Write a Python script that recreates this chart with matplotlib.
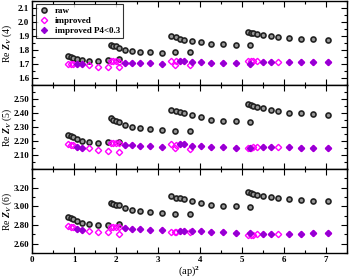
import matplotlib
matplotlib.use("Agg")
import matplotlib.pyplot as plt
from matplotlib.ticker import MultipleLocator, FixedLocator, FixedFormatter
import numpy as np

# (ap)^2 values, four ensembles concatenated
x_vals = [0.86, 0.93, 0.98, 1.08, 1.19, 1.36, 1.56, 1.80, 2.07,
          1.87, 1.93, 2.00, 2.07, 2.21, 2.38, 2.58, 2.82, 3.10, 3.41, 3.75,
          3.32, 3.42, 3.52, 3.63, 3.82, 4.03, 4.27, 4.54, 4.85, 5.19,
          5.15, 5.21, 5.27, 5.36, 5.50, 5.68, 5.87, 6.11, 6.40, 6.70, 7.05]

# 1 where P4 < 0.3
p4_cut = [0, 0, 0, 1, 1, 0, 0, 0, 0,
          0, 0, 0, 0, 1, 1, 1, 1, 1, 0, 0,
          0, 0, 1, 1, 1, 1, 1, 1, 1, 1,
          0, 0, 0, 0, 1, 1, 0, 1, 1, 1, 1]

raw_4 = [1.757, 1.750, 1.740, 1.733, 1.725, 1.721, 1.721, 1.725, 1.733,
         1.837, 1.830, 1.825, 1.812, 1.798, 1.793, 1.788, 1.788, 1.781, 1.783, 1.783,
         1.897, 1.890, 1.880, 1.870, 1.863, 1.854, 1.844, 1.839, 1.837, 1.834,
         1.928, 1.924, 1.919, 1.914, 1.907, 1.899, 1.892, 1.885, 1.880, 1.875, 1.873]
imp_4 = [1.702, 1.701, 1.700, 1.699, 1.696, 1.692, 1.680, 1.677, 1.675,
         1.720, 1.719, 1.718, 1.716, 1.709, 1.706, 1.706, 1.704, 1.697, 1.692, 1.692,
         1.723, 1.723, 1.723, 1.722, 1.716, 1.714, 1.709, 1.706, 1.704, 1.698,
         1.721, 1.721, 1.721, 1.720, 1.716, 1.714, 1.716, 1.712, 1.711, 1.710, 1.710]

raw_5 = [2.246, 2.237, 2.227, 2.216, 2.199, 2.195, 2.188, 2.190, 2.192,
         2.362, 2.350, 2.343, 2.334, 2.315, 2.303, 2.292, 2.283, 2.278, 2.274, 2.274,
         2.424, 2.412, 2.405, 2.396, 2.383, 2.369, 2.352, 2.345, 2.341, 2.338,
         2.461, 2.458, 2.452, 2.445, 2.435, 2.424, 2.412, 2.403, 2.396, 2.389, 2.387]
imp_5 = [2.176, 2.174, 2.168, 2.160, 2.150, 2.147, 2.135, 2.131, 2.123,
         2.186, 2.185, 2.185, 2.183, 2.172, 2.168, 2.165, 2.162, 2.157, 2.147, 2.140,
         2.175, 2.174, 2.176, 2.175, 2.167, 2.162, 2.156, 2.154, 2.151, 2.149,
         2.153, 2.153, 2.154, 2.155, 2.157, 2.157, 2.155, 2.154, 2.152, 2.151, 2.150]

raw_6 = [2.889, 2.879, 2.865, 2.847, 2.819, 2.815, 2.801, 2.805, 2.808,
         3.038, 3.024, 3.013, 3.010, 2.981, 2.963, 2.950, 2.939, 2.928, 2.916, 2.914,
         3.108, 3.094, 3.084, 3.077, 3.055, 3.038, 3.013, 3.006, 2.999, 2.995,
         3.154, 3.147, 3.137, 3.126, 3.116, 3.101, 3.087, 3.077, 3.066, 3.059, 3.052]
imp_6 = [2.785, 2.782, 2.775, 2.762, 2.748, 2.741, 2.724, 2.721, 2.708,
         2.777, 2.775, 2.777, 2.778, 2.767, 2.760, 2.753, 2.748, 2.742, 2.726, 2.724,
         2.728, 2.730, 2.737, 2.737, 2.734, 2.731, 2.722, 2.721, 2.720, 2.719,
         2.697, 2.696, 2.697, 2.700, 2.703, 2.704, 2.705, 2.707, 2.709, 2.710, 2.711]

panel_names = ["(4)", "(5)", "(6)"]
y_limits = [(1.55, 2.15), (2.0, 2.6), (2.5, 3.4)]
y_ticks = [[1.6, 1.7, 1.8, 1.9, 2.0, 2.1],
           [2.1, 2.2, 2.3, 2.4, 2.5],
           [2.6, 2.8, 3.0, 3.2]]
y_fmt = ["%.1f", "%.2f", "%.2f"]
y_minor = [0.05, 0.05, 0.1]

plt.rcParams['font.family'] = ['Liberation Serif', 'DejaVu Serif']
plt.rcParams['font.weight'] = 'bold'
plt.rcParams['mathtext.fontset'] = 'custom'
plt.rcParams['mathtext.it'] = 'Liberation Serif:italic:bold'
plt.rcParams['mathtext.rm'] = 'Liberation Serif:bold'


def plot_panels():
    fig, axes = plt.subplots(3, 1, figsize=(3.49, 2.79), dpi=100, sharex=True)
    fig.subplots_adjust(left=0.092, right=0.994, bottom=0.093, top=0.997, hspace=0)

    x = np.array(x_vals)
    cut = np.array(p4_cut) == 1
    data = [(raw_4, imp_4), (raw_5, imp_5), (raw_6, imp_6)]

    for i, ax in enumerate(axes):
        raw, imp = np.array(data[i][0]), np.array(data[i][1])
        ax.plot(x, raw, 'o', ls='none', ms=3.6, mfc='#999999', mec='#222222', mew=1.2,
                label='raw')
        ax.plot(x, imp, 'D', ls='none', ms=3.2, mfc='none', mec='#ff00ff', mew=1.0,
                label='improved')
        ax.plot(x[cut], imp[cut], 'D', ls='none', ms=3.2, mfc='#9400d3', mec='#9400d3',
                mew=0.8, label='improved P4<0.3')

        ax.set_xlim(0, 7.5)
        ax.set_ylim(*y_limits[i])
        ax.yaxis.set_major_locator(FixedLocator(y_ticks[i]))
        ax.yaxis.set_major_formatter(FixedFormatter([y_fmt[i] % v for v in y_ticks[i]]))
        ax.yaxis.set_minor_locator(MultipleLocator(y_minor[i]))
        ax.xaxis.set_major_locator(MultipleLocator(1))
        ax.xaxis.set_minor_locator(MultipleLocator(0.5))
        ax.tick_params(which='both', direction='in', top=True, right=True,
                       labelsize=6.5, width=0.8, pad=2)
        ax.tick_params(which='major', length=4)
        ax.tick_params(which='minor', length=2)
        for s in ax.spines.values():
            s.set_linewidth(1.0)
        ax.set_ylabel(r'Re $Z_V$ ' + panel_names[i], fontsize=7)
        ax.yaxis.set_label_coords(-0.058, 0.5)

    axes[-1].set_xlabel(r'(ap)$^2$', fontsize=7.5, labelpad=0)

    leg = axes[0].legend(loc='upper left', fontsize=6.5, frameon=True, fancybox=False,
                         borderpad=0.3, handlelength=1.2, handletextpad=0.6,
                         labelspacing=0.15, borderaxespad=0.4)
    leg.get_frame().set_edgecolor('black')
    leg.get_frame().set_linewidth(0.8)

    fig.savefig('out.png', dpi=100)


if __name__ == "__main__":
    plot_panels()
